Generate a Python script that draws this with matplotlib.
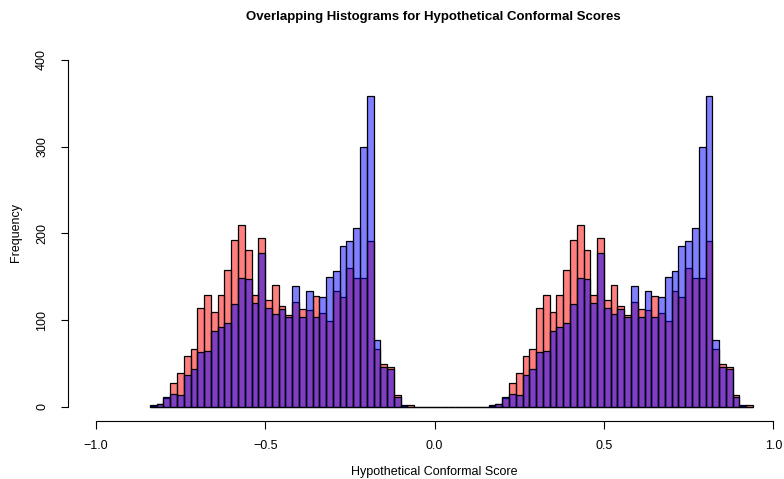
import numpy as np
import matplotlib
matplotlib.use("Agg")
import matplotlib.pyplot as plt

plt.rcParams['font.family'] = ['Liberation Sans', 'DejaVu Sans']

# histogram counts, bins of width 0.02 starting at -0.84
bin_start = -0.84
bin_width = 0.02

left_red = [1, 3, 10, 27, 39, 59, 67, 114, 129, 109, 129, 158, 192, 210, 181,
            129, 195, 123, 140, 116, 106, 121, 113, 111, 128, 108, 99, 133, 127,
            160, 149, 148, 191, 66, 49, 46, 13, 1, 2]
left_blue = [2, 3, 11, 15, 13, 37, 43, 63, 64, 87, 92, 96, 118, 149, 147,
             120, 177, 114, 107, 113, 103, 139, 104, 133, 103, 127, 150, 156, 185,
             191, 206, 299, 358, 77, 46, 43, 11, 2, 0]
gap_counts = [0, 0, 0, 0, 0, 0, 0, 0, 0, 0, 0]
right_red = [1, 3, 10, 27, 39, 59, 67, 114, 129, 109, 129, 158, 192, 210, 181,
             129, 195, 123, 140, 116, 106, 121, 113, 111, 128, 108, 99, 133, 127,
             160, 149, 148, 191, 66, 49, 46, 13, 1, 2]
right_blue = [2, 3, 11, 15, 13, 37, 43, 63, 64, 87, 92, 96, 118, 149, 147,
              120, 177, 114, 107, 113, 103, 139, 104, 133, 103, 127, 150, 156, 185,
              191, 206, 299, 358, 77, 46, 43, 11, 2, 0]

red_counts = np.array(left_red + gap_counts + right_red)
blue_counts = np.array(left_blue + gap_counts + right_blue)
lefts = bin_start + bin_width * np.arange(len(red_counts))

x_ticks = [-1.0, -0.5, 0.0, 0.5, 1.0]
y_ticks = [0, 100, 200, 300, 400]

W, H = 784, 479
fig = plt.figure(figsize=(W / 100, H / 100), dpi=100)
# axes in pixel coords: left 68.3 .. 784, top 40 .. bottom 420.7
ax = fig.add_axes([68.3 / W, (H - 420.7) / H, (W - 68.3) / W, 380.7 / H])

ax.bar(lefts, red_counts, width=bin_width, align='edge',
       facecolor=(1, 0, 0, 0.5), edgecolor='black', linewidth=0.9)
ax.bar(lefts, blue_counts, width=bin_width, align='edge',
       facecolor=(0, 0, 1, 0.5), edgecolor='black', linewidth=0.9)

ax.set_xlim(-1.081, 1.0316)
ax.set_ylim(-16.15, 423)

for s in ['top', 'right']:
    ax.spines[s].set_visible(False)
ax.spines['left'].set_bounds(0, 400)
ax.spines['bottom'].set_bounds(-1, 1)
ax.spines['left'].set_linewidth(0.8)
ax.spines['bottom'].set_linewidth(0.8)

ax.set_xticks(x_ticks)
ax.set_xticklabels(['\u22121.0', '\u22120.5', '0.0', '0.5', '1.0'])
ax.set_yticks(y_ticks)
ax.set_yticklabels([str(v) for v in y_ticks], rotation=90, va='center')
ax.tick_params(axis='x', length=5.5, width=0.8, pad=8.5, labelsize=9)
ax.tick_params(axis='y', length=5.0, width=0.8, pad=9.5, labelsize=9)

fig.text(433.5 / W, 1 - 17 / H, 'Overlapping Histograms for Hypothetical Conformal Scores',
         ha='center', va='center', fontsize=9.5, fontweight='bold')
# reference clips this label at the bottom edge; kept just inside here
fig.text(434.5 / W, 1 - 466 / H, 'Hypothetical Conformal Score',
         ha='center', va='top', fontsize=9)
fig.text(16 / W, 1 - 233 / H, 'Frequency', rotation=90,
         ha='center', va='center', fontsize=9)

fig.savefig('out.png', dpi=100)
